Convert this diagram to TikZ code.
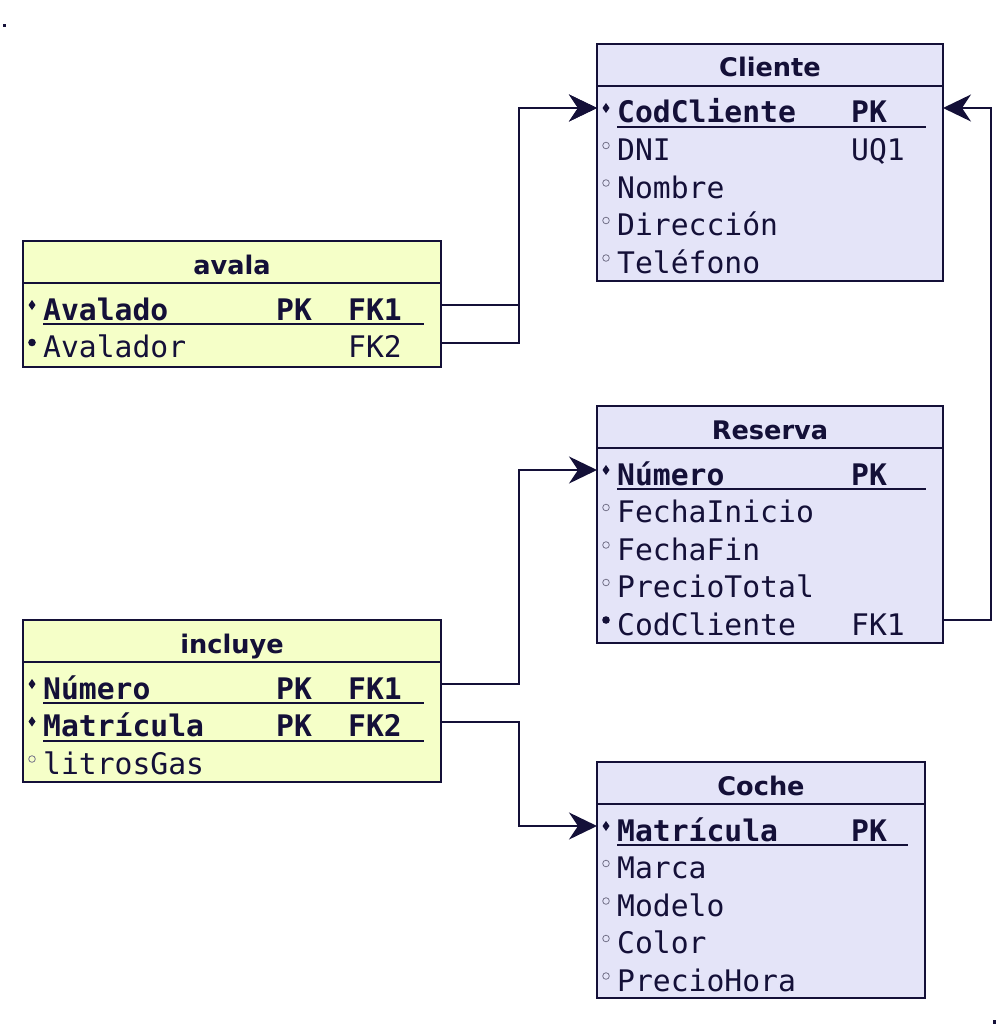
\documentclass[tikz,border=0pt]{standalone}
\usepackage{fontspec}
\setsansfont{DejaVu Sans}
\setmonofont{DejaVu Sans Mono}
\usepackage{tikz}
\usetikzlibrary{arrows.meta}
\definecolor{ink}{RGB}{20,16,56}
\definecolor{entityblue}{RGB}{228,228,248}
\definecolor{entityyellow}{RGB}{245,255,200}
\newcommand{\attrfont}{\fontsize{29.7pt}{36pt}\selectfont\ttfamily}
\newcommand{\headfont}{\fontsize{25.6pt}{30pt}\selectfont\sffamily\bfseries}
\newcommand{\drawlink}{\draw[ink, line width=2pt, -{Stealth[length=28pt, width=27pt, inset=9pt]}]}
\newcommand{\pkmark}[1]{\fill[ink] (#1) +(0,-5) -- +(3.5,0) -- +(0,5) -- +(-3.5,0) -- cycle;}
\newcommand{\fkmark}[1]{\fill[ink] (#1) circle (3.8pt);}
\newcommand{\attrmark}[1]{\draw[ink!60, line width=0.8pt] (#1) circle (3.3pt);}

\tikzset{
    tabletitle/.style={draw=ink, line width=2pt, fill=#1, anchor=north west, outer sep=0pt,
        minimum height=42pt, inner sep=0pt, text height=24pt, text depth=0pt,
        text=ink, font=\headfont},
    tablebody/.style={draw=ink, line width=2pt, fill=#1, anchor=north west, outer sep=0pt, inner sep=0pt},
    attr/.style={anchor=west, inner sep=0pt, text height=30pt, text depth=0pt,
        text=ink, font=\attrfont},
    keyattr/.style={attr, font=\attrfont\bfseries},
    keyline/.style={ink, line width=2pt},
}

\begin{document}
\begin{tikzpicture}[x=1pt, y=-1pt]
    \useasboundingbox (0,0) rectangle (1000,1030);

    % Corner marks
    \fill[ink] (3.3,24) rectangle (6,27.5);
    \fill[ink] (993.3,1020) rectangle (996,1023.5);

    % Draw Cliente
    \node[tabletitle=entityblue, minimum width=346pt] (cliente) at (597,44) {Cliente};
    \node[tablebody=entityblue, minimum width=346pt, minimum height=195pt] (cliB) at (cliente.south west) {};
    \node[keyattr] (cli1) at (617,108) {CodCliente};
    \node[keyattr] (cliPK) at (851,108) {PK};
    \draw[keyline] (617,127) -- (926,127);
    \pkmark{606,108}
    \foreach \t [count=\i from 2] in {DNI,Nombre,Dirección,Teléfono} {
        \node[attr] (cli\i) at (617,{108+37.5*(\i-1)}) {\t};
        \attrmark{606,{108+37.5*(\i-1)}}
    }
    \node[attr] (cliUQ) at (851,145.5) {UQ1};

    % Draw avala
    \node[tabletitle=entityyellow, minimum width=418pt] (avala) at (23,241) {avala};
    \node[tablebody=entityyellow, minimum width=418pt, minimum height=84pt] (avaB) at (avala.south west) {};
    \node[keyattr] (ava1) at (43,305) {Avalado};
    \node[keyattr] (avaPK) at (276,305) {PK};
    \node[keyattr] (avaFK1) at (348,305) {FK1};
    \draw[keyline] (43,324) -- (424,324);
    \pkmark{32,305}
    \node[attr] (ava2) at (43,342.5) {Avalador};
    \node[attr] (avaFK2) at (348,342.5) {FK2};
    \fkmark{32,342.5}

    % Draw Reserva
    \node[tabletitle=entityblue, minimum width=346pt] (reserva) at (597,406) {Reserva};
    \node[tablebody=entityblue, minimum width=346pt, minimum height=195pt] (resB) at (reserva.south west) {};
    \node[keyattr] (res1) at (617,470) {Número};
    \node[keyattr] (resPK) at (851,470) {PK};
    \draw[keyline] (617,489) -- (926,489);
    \pkmark{606,470}
    \foreach \t [count=\i from 2] in {FechaInicio,FechaFin,PrecioTotal} {
        \node[attr] (res\i) at (617,{470+37.5*(\i-1)}) {\t};
        \attrmark{606,{470+37.5*(\i-1)}}
    }
    \node[attr] (res5) at (617,620) {CodCliente};
    \node[attr] (resFK1) at (851,620) {FK1};
    \fkmark{606,620}

    % Draw incluye
    \node[tabletitle=entityyellow, minimum width=418pt] (incluye) at (23,620) {incluye};
    \node[tablebody=entityyellow, minimum width=418pt, minimum height=120pt] (incB) at (incluye.south west) {};
    \node[keyattr] (inc1) at (43,684) {Número};
    \node[keyattr] (incPK1) at (276,684) {PK};
    \node[keyattr] (incFK1) at (348,684) {FK1};
    \draw[keyline] (43,703) -- (424,703);
    \pkmark{32,684}
    \node[keyattr] (inc2) at (43,721.5) {Matrícula};
    \node[keyattr] (incPK2) at (276,721.5) {PK};
    \node[keyattr] (incFK2) at (348,721.5) {FK2};
    \draw[keyline] (43,740.5) -- (424,740.5);
    \pkmark{32,721.5}
    \node[attr] (inc3) at (43,759) {litrosGas};
    \attrmark{32,759}

    % Draw Coche
    \node[tabletitle=entityblue, minimum width=328pt] (coche) at (597,762) {Coche};
    \node[tablebody=entityblue, minimum width=328pt, minimum height=194pt] (cocB) at (coche.south west) {};
    \node[keyattr] (coc1) at (617,826) {Matrícula};
    \node[keyattr] (cocPK) at (851,826) {PK};
    \draw[keyline] (617,845) -- (908,845);
    \pkmark{606,826}
    \foreach \t [count=\i from 2] in {Marca,Modelo,Color,PrecioHora} {
        \node[attr] (coc\i) at (617,{826+37.5*(\i-1)}) {\t};
        \attrmark{606,{826+37.5*(\i-1)}}
    }

    % Draw links
    \drawlink (avaB.east |- ava1) -- ++(78,0) |- (cliB.west |- cli1);
    \drawlink (avaB.east |- ava2) -- ++(78,0) |- (cliB.west |- cli1);
    \drawlink (resB.east |- res5) -- ++(48,0) |- (cliB.east |- cli1);
    \drawlink (incB.east |- inc1) -- ++(78,0) |- (resB.west |- res1);
    \drawlink (incB.east |- inc2) -- ++(78,0) |- (cocB.west |- coc1);
\end{tikzpicture}
\end{document}
